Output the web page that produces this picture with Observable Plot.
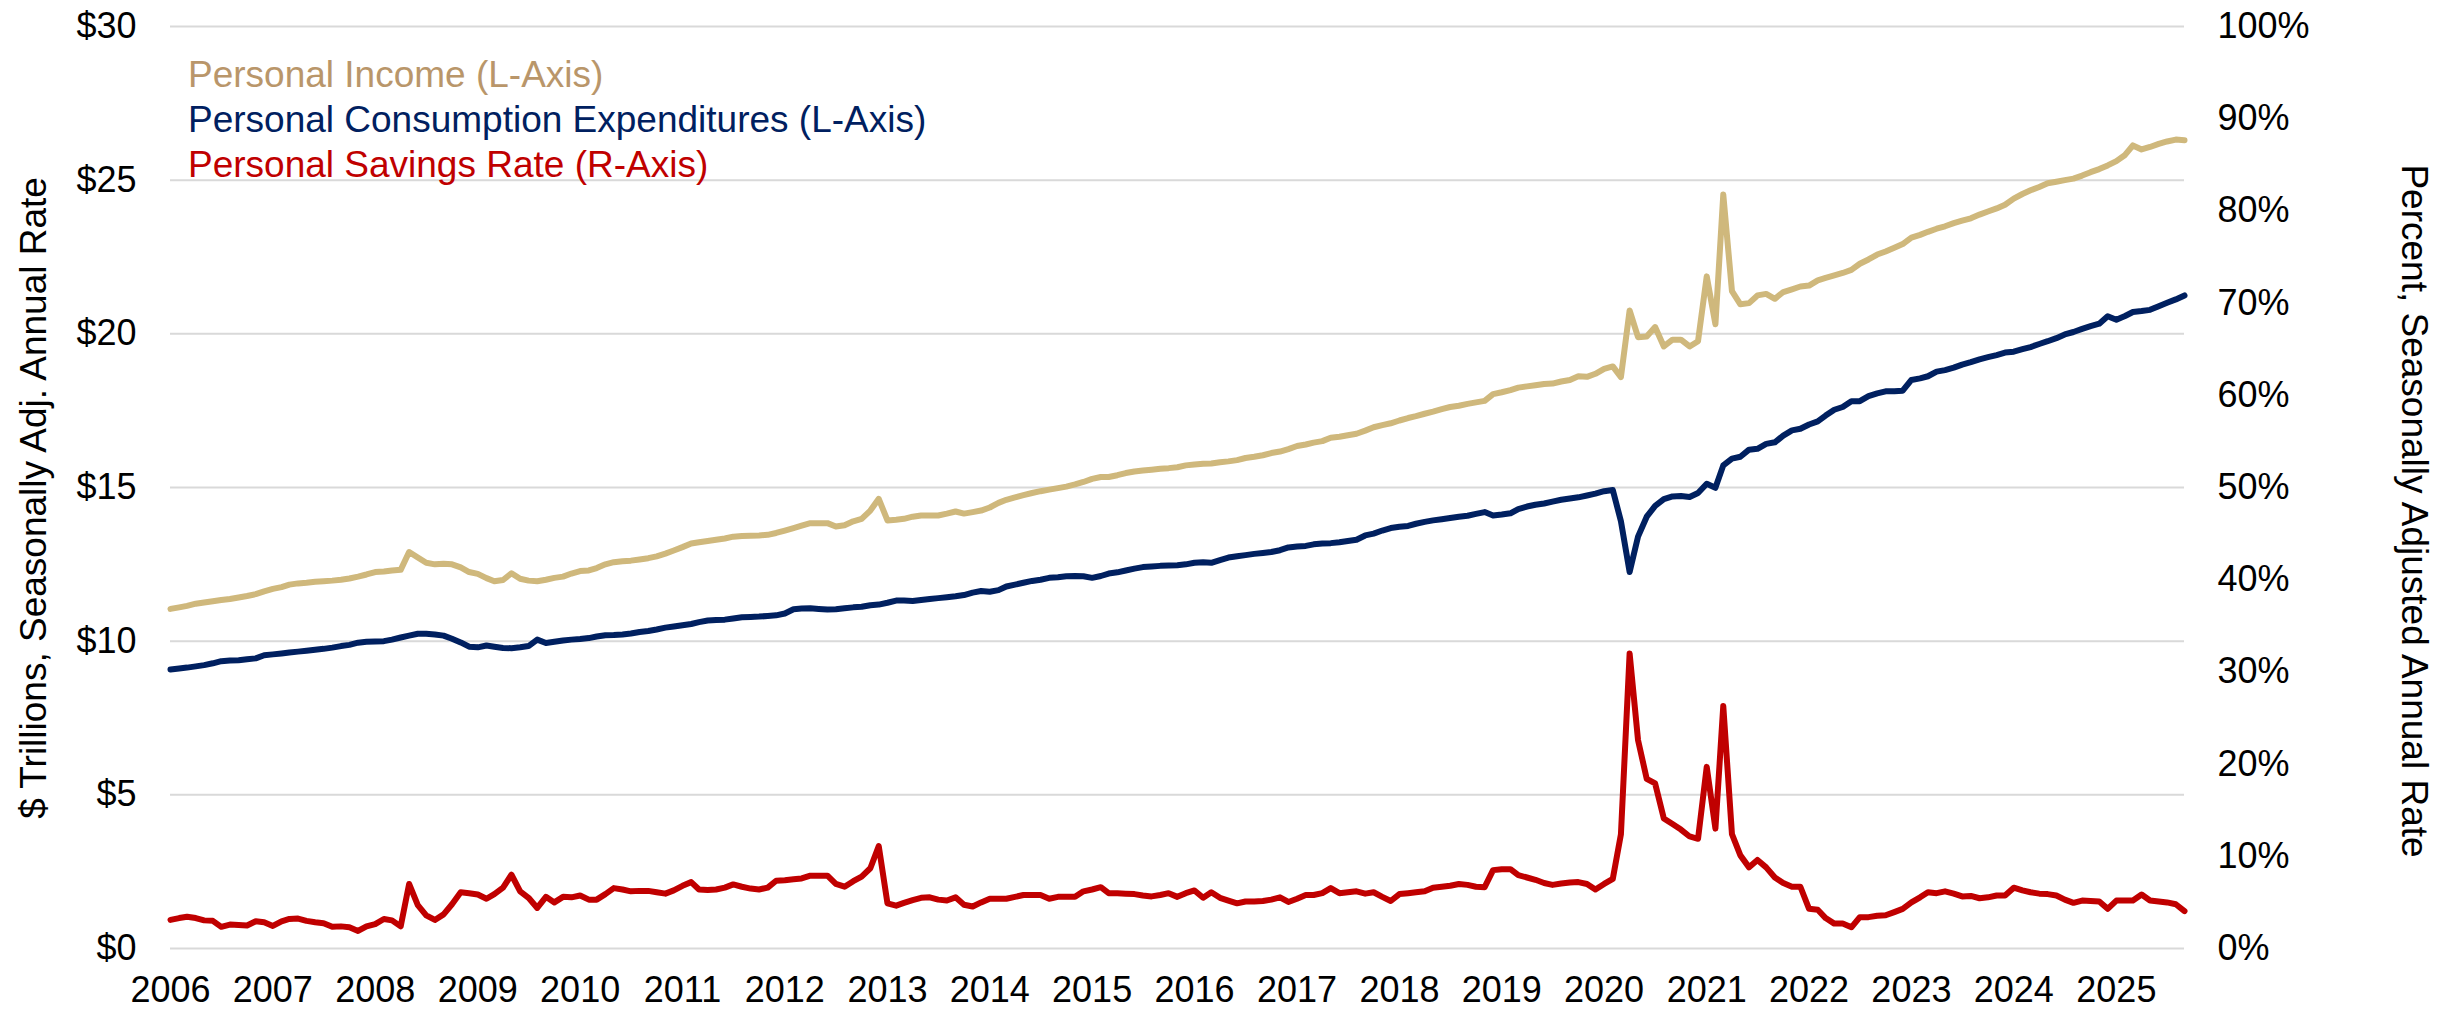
<!DOCTYPE html>
<html><head><meta charset="utf-8">
<script src="https://cdn.jsdelivr.net/npm/d3@7"></script>
<script src="https://cdn.jsdelivr.net/npm/@observablehq/plot@0.6"></script>
<style>
html,body{margin:0;padding:0;background:#fff;}
#wrap{position:relative;width:2458px;height:1010px;font-family:"Liberation Sans",Arial,sans-serif;overflow:hidden;}
.legend{position:absolute;left:188px;top:52px;font-size:37px;line-height:45px;white-space:nowrap;}
.ytitle{position:absolute;font-size:37px;white-space:nowrap;color:#000;transform-origin:center center;}
</style></head><body><div id="wrap"></div>
<script>
// ---- data (monthly, Jan 2006 – Sep 2025) ----
const startYear = 2006;
const seriesNames = ["Personal Income (L-Axis)", "Personal Consumption Expenditures (L-Axis)", "Personal Savings Rate (R-Axis)"];
const leftTicks = [0, 5, 10, 15, 20, 25, 30];
const rightTicks = [0, 10, 20, 30, 40, 50, 60, 70, 80, 90, 100];
const yearTicks = [2006,2007,2008,2009,2010,2011,2012,2013,2014,2015,2016,2017,2018,2019,2020,2021,2022,2023,2024,2025];

// Personal Income, $ trillions SAAR
const personalIncome = [
11.05,11.10,11.15,11.22,11.26,11.30,11.34,11.37,11.42,11.47,11.53,11.62,
11.70,11.76,11.84,11.88,11.90,11.93,11.95,11.97,12.00,12.04,12.10,12.17,
12.25,12.27,12.30,12.32,12.90,12.72,12.55,12.50,12.52,12.50,12.40,12.25,
12.19,12.05,11.95,11.99,12.21,12.03,11.97,11.95,12.00,12.06,12.10,12.20,
12.28,12.30,12.38,12.50,12.57,12.60,12.62,12.66,12.70,12.76,12.85,12.95,
13.06,13.18,13.22,13.26,13.30,13.34,13.40,13.42,13.43,13.44,13.46,13.52,
13.60,13.68,13.76,13.84,13.84,13.84,13.73,13.77,13.90,13.98,14.25,14.63,
13.93,13.95,13.98,14.05,14.09,14.09,14.09,14.15,14.22,14.15,14.20,14.25,
14.35,14.50,14.60,14.68,14.75,14.82,14.88,14.93,14.98,15.03,15.10,15.18,
15.28,15.34,15.34,15.40,15.47,15.52,15.55,15.58,15.61,15.63,15.66,15.72,
15.75,15.77,15.78,15.82,15.85,15.89,15.96,16.00,16.05,16.12,16.17,16.25,
16.35,16.40,16.46,16.51,16.62,16.65,16.70,16.75,16.85,16.96,17.03,17.09,
17.18,17.26,17.32,17.40,17.47,17.55,17.62,17.66,17.72,17.77,17.82,18.04,
18.10,18.17,18.25,18.29,18.33,18.37,18.38,18.45,18.50,18.62,18.60,18.70,
18.86,18.94,18.59,20.76,19.89,19.91,20.22,19.59,19.81,19.81,19.59,19.76,
21.87,20.31,24.53,21.39,20.96,21.00,21.25,21.30,21.14,21.36,21.45,21.54,
21.57,21.74,21.82,21.90,21.98,22.08,22.28,22.42,22.58,22.68,22.80,22.92,
23.13,23.22,23.32,23.42,23.50,23.60,23.68,23.76,23.88,23.98,24.08,24.20,
24.40,24.55,24.67,24.78,24.90,24.95,25.00,25.05,25.15,25.26,25.36,25.48,
25.62,25.82,26.13,26.00,26.08,26.18,26.26,26.32,26.30
];

// Personal Consumption Expenditures, $ trillions SAAR
const consumption = [
9.08,9.11,9.14,9.18,9.22,9.28,9.35,9.37,9.38,9.41,9.44,9.54,
9.57,9.60,9.63,9.66,9.69,9.72,9.75,9.79,9.84,9.88,9.95,9.98,
9.99,10.00,10.05,10.12,10.18,10.24,10.24,10.22,10.18,10.08,9.96,9.82,
9.80,9.86,9.82,9.78,9.77,9.80,9.84,10.05,9.94,9.98,10.02,10.05,
10.07,10.10,10.15,10.19,10.20,10.22,10.25,10.30,10.33,10.38,10.44,10.48,
10.52,10.56,10.62,10.67,10.69,10.70,10.74,10.78,10.79,10.80,10.82,10.84,
10.90,11.04,11.06,11.07,11.05,11.03,11.04,11.07,11.10,11.12,11.17,11.19,
11.25,11.32,11.32,11.31,11.34,11.37,11.40,11.43,11.46,11.50,11.58,11.63,
11.61,11.66,11.78,11.84,11.90,11.96,12.00,12.06,12.08,12.11,12.12,12.11,
12.06,12.12,12.20,12.24,12.30,12.36,12.41,12.43,12.45,12.46,12.47,12.50,
12.55,12.57,12.55,12.64,12.72,12.76,12.80,12.84,12.87,12.90,12.96,13.05,
13.08,13.10,13.15,13.18,13.19,13.22,13.26,13.30,13.44,13.50,13.60,13.68,
13.72,13.75,13.82,13.88,13.93,13.97,14.01,14.05,14.08,14.14,14.20,14.09,
14.12,14.16,14.30,14.38,14.44,14.48,14.54,14.60,14.64,14.68,14.74,14.80,
14.88,14.92,13.90,12.25,13.40,14.05,14.40,14.62,14.71,14.72,14.69,14.82,
15.12,14.99,15.72,15.94,16.00,16.23,16.26,16.42,16.47,16.69,16.86,16.91,
17.05,17.15,17.34,17.53,17.62,17.81,17.81,17.97,18.06,18.13,18.13,18.15,
18.50,18.55,18.62,18.77,18.82,18.90,19.00,19.08,19.17,19.24,19.31,19.39,
19.42,19.50,19.57,19.67,19.76,19.86,19.98,20.06,20.16,20.25,20.33,20.57,
20.46,20.58,20.71,20.74,20.78,20.90,21.01,21.12,21.25
];

// Personal Savings Rate, percent
const savingsRate = [
3.10,3.30,3.45,3.30,3.05,3.00,2.35,2.60,2.55,2.50,2.95,2.85,
2.45,2.95,3.20,3.25,3.00,2.85,2.75,2.35,2.40,2.30,1.90,2.40,
2.65,3.20,3.05,2.40,7.00,4.70,3.60,3.10,3.70,4.80,6.10,6.00,
5.85,5.40,5.90,6.60,8.00,6.20,5.50,4.40,5.60,5.00,5.60,5.55,
5.75,5.30,5.30,5.90,6.55,6.40,6.20,6.25,6.25,6.10,5.95,6.30,
6.80,7.20,6.40,6.35,6.40,6.60,6.95,6.70,6.50,6.40,6.60,7.35,
7.40,7.50,7.60,7.90,7.90,7.90,7.00,6.70,7.30,7.80,8.70,11.10,
4.90,4.65,4.95,5.25,5.50,5.55,5.30,5.20,5.55,4.75,4.55,5.00,
5.40,5.40,5.40,5.60,5.80,5.80,5.80,5.40,5.60,5.60,5.60,6.20,
6.40,6.65,6.00,6.00,5.95,5.90,5.75,5.65,5.80,6.00,5.60,6.00,
6.30,5.50,6.10,5.50,5.20,4.90,5.10,5.10,5.15,5.30,5.55,5.05,
5.40,5.80,5.80,6.00,6.55,6.00,6.10,6.20,5.95,6.10,5.60,5.15,
5.90,6.00,6.10,6.20,6.60,6.70,6.80,7.00,6.90,6.70,6.65,8.50,
8.60,8.60,7.95,7.70,7.45,7.10,6.90,7.05,7.15,7.20,7.00,6.40,
7.00,7.55,12.40,32.00,22.60,18.40,17.90,14.10,13.50,12.90,12.15,11.90,
19.70,13.00,26.30,12.40,10.10,8.80,9.60,8.80,7.70,7.10,6.70,6.70,
4.30,4.20,3.30,2.70,2.70,2.30,3.40,3.40,3.55,3.60,3.95,4.30,
5.00,5.55,6.10,6.00,6.20,5.95,5.65,5.70,5.45,5.55,5.75,5.75,
6.60,6.30,6.10,5.95,5.90,5.75,5.30,4.95,5.20,5.15,5.10,4.30,
5.20,5.20,5.20,5.85,5.20,5.10,5.00,4.80,4.05
];

const colors = {income: "#CFB87C", pce: "#002060", savings: "#C00000"};
const legendColors = ["#B9966A", "#002060", "#C00000"];

// ---- build ----
const rows = personalIncome.map((v, i) => ({
  date: new Date(Date.UTC(startYear, i, 1)),
  income: v,
  pce: consumption[i],
  sr: savingsRate[i]
}));
const pctToLeft = p => p * 30 / 100;   // right axis 0–100% maps onto left 0–30
const xTicks = yearTicks.map(y => new Date(Date.UTC(y, 0, 1)));

const chart = Plot.plot({
  width: 2458,
  height: 1010,
  marginLeft: 170,
  marginRight: 274,
  marginTop: 26,
  marginBottom: 62,
  style: {fontFamily: "'Liberation Sans', Arial, sans-serif", fontSize: "36px", color: "#000", background: "#fff", overflow: "visible"},
  x: {type: "utc", domain: [rows[0].date, rows[rows.length - 1].date]},
  y: {domain: [0, 30]},
  marks: [
    Plot.gridY(leftTicks, {stroke: "#d9d9d9", strokeOpacity: 1, strokeWidth: 2}),
    Plot.axisY(leftTicks, {anchor: "left", tickSize: 0, tickPadding: 34, label: null, fontSize: 36, tickFormat: d => "$" + d}),
    Plot.axisY(rightTicks.map(pctToLeft), {anchor: "right", tickSize: 0, tickPadding: 33, label: null, fontSize: 36, tickFormat: d => Math.round(d * 100 / 30) + "%"}),
    Plot.axisX(xTicks, {anchor: "bottom", tickSize: 0, tickPadding: 28, label: null, fontSize: 36, tickFormat: d => String(d.getUTCFullYear())}),
    Plot.lineY(rows, {x: "date", y: "income", stroke: colors.income, strokeWidth: 6}),
    Plot.lineY(rows, {x: "date", y: "pce", stroke: colors.pce, strokeWidth: 6}),
    Plot.lineY(rows, {x: "date", y: d => pctToLeft(d.sr), stroke: colors.savings, strokeWidth: 6})
  ]
});

const wrap = document.getElementById("wrap");
chart.style.position = "absolute";
chart.style.left = "0px";
chart.style.top = "0px";
wrap.appendChild(chart);

const legend = document.createElement("div");
legend.className = "legend";
seriesNames.forEach((name, i) => {
  const line = document.createElement("div");
  line.textContent = name;
  line.style.color = legendColors[i];
  legend.appendChild(line);
});
wrap.appendChild(legend);

function addTitle(text, cx, cy, angle) {
  const t = document.createElement("div");
  t.className = "ytitle";
  t.textContent = text;
  wrap.appendChild(t);
  const w = t.offsetWidth, h = t.offsetHeight;
  t.style.left = (cx - w / 2) + "px";
  t.style.top = (cy - h / 2) + "px";
  t.style.transform = `rotate(${angle}deg)`;
}
addTitle("$ Trillions, Seasonally Adj. Annual Rate", 34, 498, -90);
addTitle("Percent, Seasonally Adjusted Annual Rate", 2413, 511, 90);
</script></body></html>
